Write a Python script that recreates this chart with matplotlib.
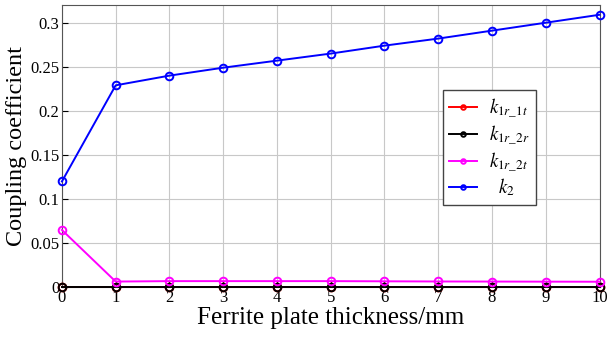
import matplotlib
matplotlib.use('Agg')
import matplotlib.pyplot as plt

plt.rcParams['font.family'] = ['Liberation Serif', 'DejaVu Serif']
plt.rcParams['mathtext.fontset'] = 'stix'

thickness = [0, 1, 2, 3, 4, 5, 6, 7, 8, 9, 10]
k1r_1t = [0.0008, 0.0008, 0.0008, 0.0008, 0.0008, 0.0008, 0.0008, 0.0008, 0.0008, 0.0008, 0.0008]
k1r_2r = [0.0005, 0.0005, 0.0005, 0.0005, 0.0005, 0.0005, 0.0005, 0.0005, 0.0005, 0.0005, 0.0005]
k1r_2t = [0.065, 0.0065, 0.007, 0.007, 0.007, 0.007, 0.0068, 0.0066, 0.0065, 0.0064, 0.0063]
k2 = [0.120, 0.229, 0.240, 0.249, 0.257, 0.265, 0.274, 0.282, 0.291, 0.300, 0.309]

fig, ax = plt.subplots(figsize=(6.13, 3.38), dpi=100)
fig.subplots_adjust(left=0.101, right=0.978, top=0.985, bottom=0.15)

mk = dict(marker='o', markersize=5.5, markerfacecolor='none', markeredgewidth=1.4,
          linewidth=1.4, clip_on=False, zorder=3)
ax.plot(thickness, k1r_1t, color='red', label=r'$k_{1r\_1t}$', **mk)
ax.plot(thickness, k1r_2r, color='black', label=r'$k_{1r\_2r}$', **mk)
ax.plot(thickness, k1r_2t, color='magenta', label=r'$k_{1r\_2t}$', **mk)
ax.plot(thickness, k2, color='blue', label=r'  $k_2$', **mk)

ax.set_xlim(0, 10)
ax.set_ylim(0, 0.32)
ax.set_xticks(range(0, 11))
ax.set_yticks([0, 0.05, 0.1, 0.15, 0.2, 0.25, 0.3])
ax.set_yticklabels(['0', '0.05', '0.1', '0.15', '0.2', '0.25', '0.3'])
ax.grid(True, color='#c8c8c8', linewidth=0.8)
ax.tick_params(direction='in', labelsize=12, length=4, pad=2)
for s in ax.spines.values():
    s.set_color('#555555')
    s.set_linewidth(0.8)

ax.set_xlabel('Ferrite plate thickness/mm', fontsize=18, labelpad=1)
ax.set_ylabel('Coupling coefficient', fontsize=17.5, labelpad=2)

leg = ax.legend(loc='upper left', bbox_to_anchor=(0.691, 0.733), fontsize=13.5,
                fancybox=False, edgecolor='#444444', framealpha=1,
                handlelength=1.5, handletextpad=0.6, labelspacing=0.15,
                borderpad=0.35, markerscale=0.6)
leg.get_frame().set_linewidth(1.0)

fig.savefig('out.png', dpi=100)
